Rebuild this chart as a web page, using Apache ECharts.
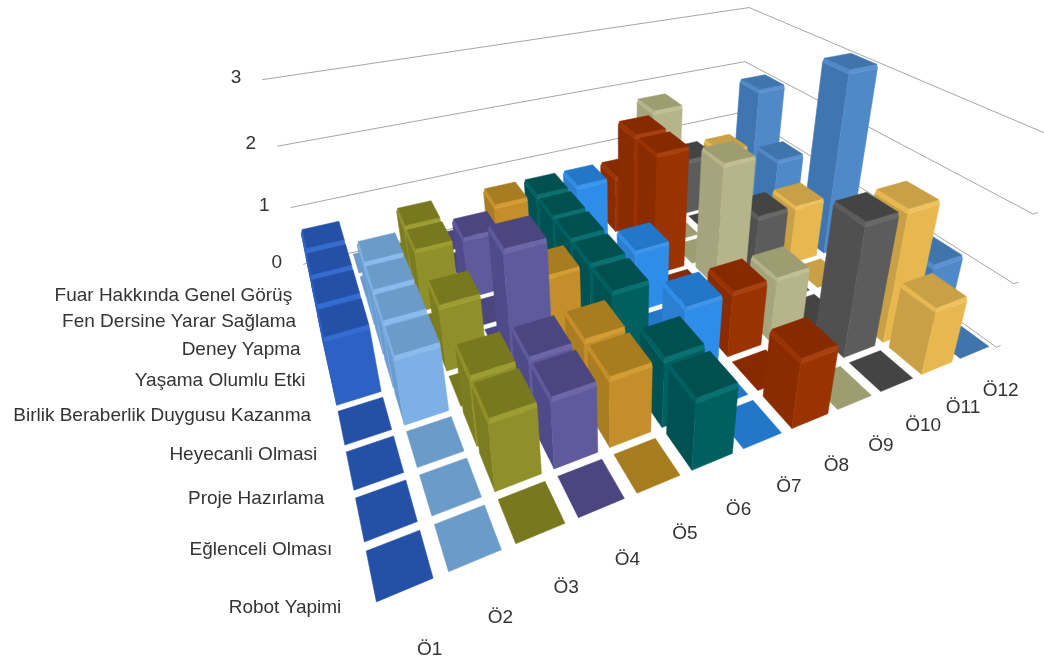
<!DOCTYPE html>
<html><head><meta charset="utf-8">
<style>html,body{margin:0;background:#fff}#c{width:1044px;height:657px}</style>
<script src="https://cdn.jsdelivr.net/npm/echarts@6/dist/echarts.min.js"></script>
</head><body><div id="c"></div>
<script>
// Criteria from front (index 0) to back (index 8)
const rowLabels = ['Robot Yapimi','Eğlenceli Olması','Proje Hazırlama','Heyecanli Olmasi','Birlik Beraberlik Duygusu Kazanma','Yaşama Olumlu Etki','Deney Yapma','Fen Dersine Yarar Sağlama','Fuar Hakkında Genel Görüş'];
const colLabels = ['Ö1','Ö2','Ö3','Ö4','Ö5','Ö6','Ö7','Ö8','Ö9','Ö10','Ö11','Ö12'];
const zTicks = [0,1,2,3];

// One list per student, ordered like rowLabels
const o1  = [0,0,0,0,1,1,1,1,0];
const o2  = [0,0,0,1,1,1,1,0,0];
const o3  = [0,1,1,0,1,0,1,1,0];
const o4  = [0,1,1,2,0,0,1,0,0];
const o5  = [0,1,1,0,1,0,0,1,0];
const o6  = [1,1,0,1,1,1,1,1,0];
const o7  = [0,0,1,0,1,0,0,1,0];
const o8  = [1,0,1,0,0,2,2,1,0];
const o9  = [0,0,1,0,2,0,0,2,0];
const o10 = [0,2,0,0,1,0,0,1,0];
const o11 = [1,2,0,0,1,0,0,1,0];
const o12 = [0,1,0,0,3,0,1,2,0];
const students = [o1,o2,o3,o4,o5,o6,o7,o8,o9,o10,o11,o12];

// top, left side, front side, for each student
const topColors   = ['#2450a8','#6b9bc9','#78791f','#4b4680','#a87c20','#005050','#2277c9','#882a00','#9e9d72','#444444','#c9a045','#3f74ad'];
const leftColors  = ['#2450a8','#6a9cd0','#7c7d20','#4f4a8a','#ab7d22','#005252','#2a7fd0','#8a2c00','#a5a47c','#505050','#c9a045','#3f76b2'];
const frontColors = ['#2d62c4','#7fb0e5','#8f9029','#5f5a9c','#c48f2a','#006060','#2e8de8','#9a3300','#b5b48a','#5c5c5c','#e8b850','#5089c7'];
const bandColors  = ['#356cd0','#8cbaec','#9c9d32','#6c67a8','#d49d34','#0a7070','#3c97ec','#a84010','#c0bf96','#686868','#efc25e','#5c92cf'];

// Reference frame of the plot box: [column, row, value, screenX, screenY]
const frame = [
  [0,0,0,368,610],[12,0,0,997,347],[12,9,0,738,160],[0,9,0,303,265],
  [0,9,1,291,209],[0,9,2,277,146],[0,9,3,263,78],
  [12,9,2,745,62],[12,9,3,748,7],
  [12,0,1,1013,283],[12,0,2,1033,212],[12,0,3,1056,141]
];

// Least-squares projective camera through the frame points
function solveCamera(pts){
  const n=11, A=Array.from({length:n},()=>new Array(n+1).fill(0));
  const add=(row,b)=>{for(let i=0;i<n;i++){for(let j=0;j<n;j++)A[i][j]+=row[i]*row[j];A[i][n]+=row[i]*b;}};
  pts.forEach(([X,Y,Z,u,v])=>{
    add([X,Y,Z,1,0,0,0,0,-u*X,-u*Y,-u*Z],u);
    add([0,0,0,0,X,Y,Z,1,-v*X,-v*Y,-v*Z],v);
  });
  for(let i=0;i<n;i++){
    let p=i;for(let k=i+1;k<n;k++)if(Math.abs(A[k][i])>Math.abs(A[p][i]))p=k;
    [A[i],A[p]]=[A[p],A[i]];
    for(let k=0;k<n;k++){if(k===i)continue;const f=A[k][i]/A[i][i];for(let j=i;j<=n;j++)A[k][j]-=f*A[i][j];}
  }
  return A.map((r,i)=>r[n]/r[i]);
}
const cam=solveCamera(frame);
function project(x,y,z){
  const w=cam[8]*x+cam[9]*y+cam[10]*z+1;
  return [(cam[0]*x+cam[1]*y+cam[2]*z+cam[3])/w,(cam[4]*x+cam[5]*y+cam[6]*z+cam[7])/w];
}

const gapX=0.11, gapY=0.08, bevel=0.055, inset=0.035;
const poly=(pts,fill)=>({type:'polygon',shape:{points:pts.map(p=>project(p[0],p[1],p[2]))},style:{fill,stroke:fill,lineWidth:0.5}});

function renderBar(params,api){
  const c=api.value(0), r=api.value(1), v=api.value(2);
  const x0=c+gapX,x1=c+1-gapX,y0=r+gapY,y1=r+1-gapY;
  if(v===0) return {type:'group',children:[poly([[x0,y0,0],[x1,y0,0],[x1,y1,0],[x0,y1,0]],topColors[c])]};
  const zb=v-bevel, e=inset;
  return {type:'group',children:[
    poly([[x0,y1,0],[x0,y0,0],[x0,y0,zb],[x0,y1,zb]],leftColors[c]),
    poly([[x0,y0,0],[x1,y0,0],[x1,y0,zb],[x0,y0,zb]],frontColors[c]),
    poly([[x0,y0,zb],[x1,y0,zb],[x1,y0+e,v],[x0+e,y0+e,v]],bandColors[c]),
    poly([[x0,y1,zb],[x0,y0,zb],[x0+e,y0+e,v],[x0+e,y1,v]],frontColors[c]),
    poly([[x0+e,y0+e,v],[x1,y0+e,v],[x1,y1,v],[x0+e,y1,v]],topColors[c])
  ]};
}

// Bars in back-to-front painting order
const barData=[];
for(let r=rowLabels.length-1;r>=0;r--)
  for(let c=colLabels.length-1;c>=0;c--)
    barData.push([c,r,students[c][r]]);

function renderWalls(params,api){
  const z=api.value(0), maxX=colLabels.length, maxY=rowLabels.length;
  const pts=[project(0,maxY,z),project(maxX,maxY,z),project(maxX,0,z),project(maxX+0.12,0,z)];
  return {type:'polyline',shape:{points:pts},style:{stroke:'#a6a6a6',lineWidth:1,fill:null}};
}
const txt=(p,text,align)=>({type:'text',x:p[0],y:p[1],style:{text,align,verticalAlign:'middle',fontFamily:'Liberation Sans',fontSize:19,fill:'#333333'}});
function renderZLabel(params,api){
  const z=api.value(0), p=project(0,rowLabels.length,z);
  return txt([p[0]-21,p[1]-2],String(zTicks[params.dataIndex]),'right');
}
function renderRowLabel(params,api){
  const r=api.value(0);
  return txt(project(-0.36,r+0.55,-0.31),rowLabels[r],'right');
}
function renderColLabel(params,api){
  const c=api.value(0);
  return txt(project(c*1.08+0.67,0,-0.9),colLabels[c],'center');
}
const custom=(renderItem,data)=>({type:'custom',coordinateSystem:'none',renderItem,data,clip:false,silent:true,animation:false});

const chart=echarts.init(document.getElementById('c'),null,{renderer:'canvas'});
chart.setOption({
  animation:false,
  backgroundColor:'#fff',
  series:[
    custom(renderWalls,zTicks.map(z=>[z])),
    custom(renderBar,barData),
    custom(renderZLabel,zTicks.map(z=>[z])),
    custom(renderRowLabel,rowLabels.map((_,i)=>[i])),
    custom(renderColLabel,colLabels.map((_,i)=>[i]))
  ]
});
</script></body></html>
